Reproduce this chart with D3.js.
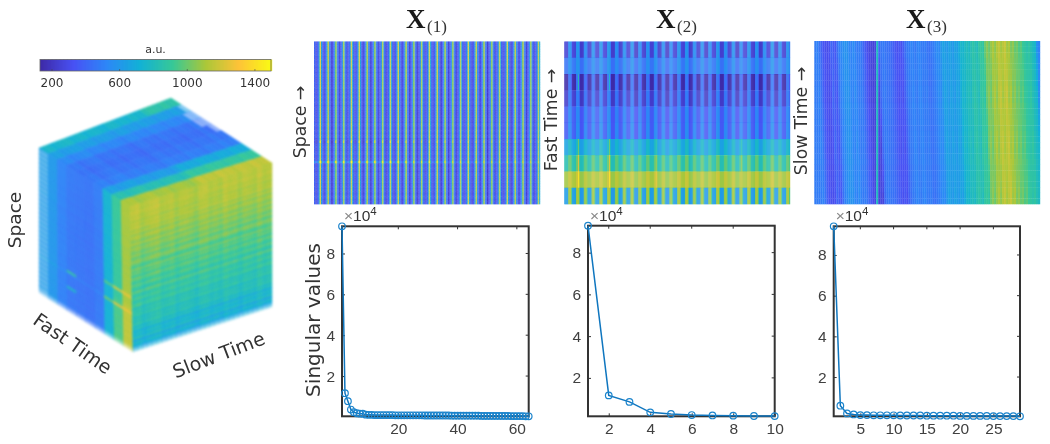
<!DOCTYPE html>
<html><head><meta charset="utf-8">
<script src="https://cdn.jsdelivr.net/npm/d3@7"></script>
<style>
html,body{margin:0;padding:0;background:#fff}
svg{display:block;filter:blur(0.35px)}
text{font-family:"DejaVu Sans",sans-serif;fill:#333}
.tick text{font-family:"Liberation Sans",sans-serif;font-size:15.5px;fill:#404040}
.tick line{stroke:#333}
</style></head><body>
<script>
// ---- colour scale ----
const colorStops=["#3e2aa8","#4852f4","#2d87f7","#12b1d6","#37c897","#abc739","#fec338","#f9fb14"];
const colorDomain=[129,1495];
const colorTicks=[200,600,1000,1400];
// ---- tensor read-offs ----
const fastLevels=[400,500,275,340,430,445,700,900,1120,850];
const x1Profile=[350,400,230,265,340,380,540,960,1230,680];
const fastSwing=[170,60,170,130,85,95,60,80,40,240];
const periodShape=[-1,-1,-1,-1,.8,1,1,.4];
const slowDelta=[10,25,-15,5,20,30,-10,0,15,-20,5,10,-5,-25,15,20,-10,5,-15,25,0,10,-20,15,5,-10,30,-5,10];
const spaceDelta=[20,30,10,25,15,35,5,20,10,25,-5,15,0,20,10,-10,15,5,25,0,-15,10,-5,20,5,-10,15,0,-20,10,5,-15,
 20,0,-10,15,-5,25,-20,30,-25,10,-10,5,20,-15,15,60,-20,10,-5,-15,15,0,-10,20,-20,5,10,-15,0,20,-5,10];
const hotRows=[39,47];
const hotGain=[130,260];
const hotFade=[1,1,.95,.9,1,.9,.85,.95,.8,.9,.7,.6,.5,.45,.55,.4,.35,.4,.3,.25,.3,.2,.25,.2,.15,.2,.15,.2,.15];
const x2Spikes=[[1,6,[6,7,8],230],[1,6,[2],350],[5,6,[6,7,8],210],[5,6,[2],280],[11,6,[6,7,8],90],[22,6,[6,7],90]];
const x3Columns=[480,500,450,380,330,310,300,320,400,360,340,430,500,530,560,570,560,520,500,540,500,470,480,450,400,350,300,270,260,250,270,260,420,460,470,450,440,430,400,370,340,310,340,310,370,430,470,480,510,490,470,500,510,480,470,480,450,
 440,460,480,510,540,530,600,640,620,600,640,620,600,650,630,690,760,740,780,800,770,830,860,830,800,880,900,870,1000,1050,990,1070,1110,1050,1130,1160,1090,1140,1170,1080,1110,1020,1060,980,1010,940,970,900,880,850,880,820,780,750,560,500];
const x3RowShift=[0,.1,.2,.4,.5,.6,.7,.8,.9,1,1.1,1.2,1.4,1.5,1.6,1.7,1.8,1.9,2,2.1,2.2,2.4,2.5,2.6,2.7,2.8,2.9,3,3.1];
const x3RowDrift=[3,-4,5,0,-3,6,2,-5,3,0,-3,7,1,-2,4,-6,3,0,5,-3,2,6,-4,0,3,-3,5,-2,2];
const x3Spike={col:31,val:780};
// ---- cube faces ----
const leftLevels=[610,590,500,460,450,440,470,720,890,1100];
const topLevels=[740,620,520,450,430,450,480,620,820,1090];
const rightRows=[1120,1130,1110,1140,1125,1100,1130,1080,1120,1090,1130,1060,1110,1030,1100,1060,1010,1090,990,1060,1020,970,1050,940,1000,1040,950,900,1010,930,970,880,
 980,920,860,950,880,830,960,860,840,910,820,860,900,790,840,810,870,770,820,790,840,750,800,680,770,710,790,650,750,690,640,690];
const hotLeft=[[3,46,880],[3,53,760],[7,40,960],[8,40,1220],[9,40,1250],[7,47,1000],[8,47,1250],[9,47,1260]];
const topNotch=[[1,28],[2,28],[3,28],[4,28],[2,27],[3,27]];
// ---- singular values (×10^4) ----
const sv1=[9.33,1.16,.77,.36,.23,.18,.16,.16,.11,.1,.1,.09,.09,.09,.09,.09,.09,.09,.08,.08,.08,.08,.08,.08,.08,.08,.08,.08,.07,.07,.07,.07,.07,.07,.07,.07,.07,.06,.06,.06,.06,.06,.06,.06,.06,.06,.06,.05,.05,.05,.05,.05,.05,.05,.05,.05,.05,.04,.04,.04,.04,.04,.03,.03];
const sv2=[9.29,1.16,.85,.35,.27,.22,.2,.19,.175,.17];
const sv3=[9.41,.59,.21,.16,.13,.13,.12,.12,.12,.12,.11,.11,.11,.11,.1,.1,.1,.1,.1,.09,.09,.09,.09,.09,.08,.08,.08,.08,.07];
const xTicks1=[20,40,60],xTicks2=[2,4,6,8,10],xTicks3=[5,10,15,20,25],yTicks=[2,4,6,8];

const svg=d3.select("body").append("svg").attr("width",1050).attr("height",444);
const color=d3.scaleLinear().domain(d3.range(colorStops.length).map(i=>colorDomain[0]+i*(colorDomain[1]-colorDomain[0])/(colorStops.length-1))).range(colorStops).clamp(true);

// colour bar
const cb=svg.append("g");
const cbx=d3.scaleLinear().domain(colorDomain).range([40,271]);
const cbVals=d3.range(colorDomain[0],colorDomain[1],8);
cb.selectAll("rect").data(cbVals).join("rect").attr("x",d=>cbx(d)).attr("y",59.5).attr("width",2.2).attr("height",11.5).attr("fill",d=>color(d));
cb.append("rect").attr("x",40).attr("y",59.5).attr("width",231).attr("height",11.5).attr("fill","none").attr("stroke","#666").attr("stroke-width",.8);
cb.selectAll("line").data(colorTicks).join("line").attr("x1",d=>cbx(d)).attr("x2",d=>cbx(d)).attr("y1",69).attr("y2",71).attr("stroke","#444").attr("stroke-width",.6);
cb.selectAll("text.l").data(colorTicks).join("text").attr("class","l").attr("x",d=>cbx(d)).attr("y",87).attr("text-anchor","middle").style("font-size","12px").text(d=>d);
cb.append("text").attr("x",155.5).attr("y",53).attr("text-anchor","middle").style("font-size","11px").text("a.u.");

// cube
function lerp(a,b,t){return [a[0]+(b[0]-a[0])*t,a[1]+(b[1]-a[1])*t];}
function face(g,c,nu,nv,val,op){
  const su=d3.scaleLinear().domain([0,nu]).range([0,1]),sv=d3.scaleLinear().domain([0,nv]).range([0,1]);
  const P=(u,v)=>lerp(lerp(c.tl,c.tr,su(u)),lerp(c.bl,c.br,su(u)),sv(v));
  const cells=[];for(let v=0;v<nv;v++)for(let u=0;u<nu;u++)cells.push({u,v});
  g.selectAll(null).data(cells).join("path")
   .attr("d",d=>"M"+[P(d.u,d.v),P(d.u+1,d.v),P(d.u+1,d.v+1),P(d.u,d.v+1)].map(p=>p.map(x=>x.toFixed(2)).join(",")).join("L")+"Z")
   .attr("fill",d=>color(val(d.u,d.v))).attr("stroke",d=>color(val(d.u,d.v))).attr("stroke-width",.5)
   .attr("opacity",d=>op(d.u,d.v));
}
const A=[39,148],G=[171,98],E=[272,163],B=[130,206],C=[133,352],D=[39,293],F=[272,307];
const cube=svg.append("g").style("filter","blur(0.8px)");
const rowFade=v=>v>=63?.4:v>=62?.7:1;
face(cube.append("g"),{tl:A,tr:G,bl:B,br:E},29,10,(s,f)=>topLevels[f]+slowDelta[s]+(f===0&&s>21?110:0)+(f>6&&s>14?60:0),
 (s,f)=>topNotch.some(n=>n[0]===f&&n[1]===s)?.55:1);
face(cube.append("g"),{tl:A,tr:B,bl:D,br:C},10,64,(f,r)=>{
  const h=hotLeft.find(x=>x[0]===f&&x[1]===r);
  return h?h[2]:leftLevels[f]+spaceDelta[r]*.6+(f>=8&&r>44?50:0)+(f===9&&r<38?-10:0);},
 (f,r)=>(f===0?(r%2?.65:.8):1)*rowFade(r));
face(cube.append("g"),{tl:B,tr:E,bl:C,br:F},29,64,(s,r)=>rightRows[r]+slowDelta[s]*1.2+spaceDelta[(r+s*3)%64]*.5,
 (s,r)=>rowFade(r));
svg.append("text").attr("transform","translate(21,220) rotate(-90)").attr("text-anchor","middle").style("font-size","18.5px").text("Space");
svg.append("text").attr("transform","translate(69,349) rotate(35)").attr("text-anchor","middle").style("font-size","19px").text("Fast Time");
svg.append("text").attr("transform","translate(221,361) rotate(-21)").attr("text-anchor","middle").style("font-size","19px").text("Slow Time");

// unfoldings
function heat(x0,x1,y0,y1,nc,nr,val){
  const x=d3.scaleBand().domain(d3.range(nc)).range([x0,x1]);
  const y=d3.scaleBand().domain(d3.range(nr)).range([y0,y1]);
  const cells=[];for(let r=0;r<nr;r++)for(let c=0;c<nc;c++)cells.push({r,c});
  svg.append("g").selectAll("rect").data(cells).join("rect")
   .attr("x",d=>x(d.c)).attr("y",d=>y(d.r)).attr("width",x.bandwidth()+.2).attr("height",y.bandwidth()+.3)
   .attr("fill",d=>color(val(d.r,d.c)));
}
heat(314,540,41.5,204,290,64,(r,c)=>{
  const f=c%10,s=Math.floor(c/10);
  let v=x1Profile[f]+slowDelta[s]*.8+spaceDelta[r]*(f>=6?1.2:.7);
  const h=hotRows.indexOf(r);
  if(h>=0){ v+= (f===7||f===8) ? hotGain[h]*hotFade[s] : (f===9||f===6?(h===1?280:60):(h===1?120:-70))*hotFade[s]; }
  return v;});
heat(564.3,790,41.5,204,232,10,(r,c)=>{
  const s=Math.floor(c/8),k=c%8;
  let v=fastLevels[r]+fastSwing[r]*periodShape[k]+slowDelta[s]*.9;
  for(const sp of x2Spikes) if(sp[0]===s&&sp[1]===k&&sp[2].includes(r)) v+=sp[3];
  return v;});
heat(814.3,1040,41,204,x3Columns.length,29,(r,c)=>{
  if(c===x3Spike.col) return x3Spike.val;
  const p=Math.max(0,c-x3RowShift[r]),i=Math.floor(p);
  return d3.interpolateNumber(x3Columns[i],x3Columns[Math.min(i+1,x3Columns.length-1)])(p-i)+x3RowDrift[r];});

// titles
[[406,"(1)"],[656,"(2)"],[906,"(3)"]].forEach(([x,s])=>{
  svg.append("text").attr("x",x).attr("y",28).style("font-family","'Liberation Serif',serif").style("font-weight","bold").style("font-size","27px").style("fill","#1a1a1a").text("X");
  svg.append("text").attr("x",x+21).attr("y",32).style("font-family","'Liberation Serif',serif").style("font-size","17px").style("fill","#333").text(s);
});
[[306,122,"Space →"],[557,120,"Fast Time →"],[807,121,"Slow Time →"]].forEach(([x,y,s])=>{
  svg.append("text").attr("transform",`translate(${x},${y}) rotate(-90)`).attr("text-anchor","middle").style("font-size","17.3px").text(s);
});

// singular value plots
function plot(x0,x1,yTop,yBot,vals,yDom,xt){
  const x=d3.scaleLinear().domain([1,vals.length]).range([x0,x1]);
  const y=d3.scaleLinear().domain(yDom).range([yBot,yTop]);
  const g=svg.append("g");
  const ax=g.append("g").attr("transform",`translate(0,${yBot})`).call(d3.axisBottom(x).tickValues(xt).tickSize(-3).tickPadding(7).tickFormat(d3.format("d")));
  ax.select(".domain").remove();
  const ay=g.append("g").attr("transform",`translate(${x0},0)`).call(d3.axisLeft(y).tickValues(yTicks).tickSize(-3).tickPadding(7).tickFormat(d3.format("d")));
  ay.select(".domain").remove();
  g.append("g").selectAll("line").data(xt).join("line").attr("x1",d=>x(d)).attr("x2",d=>x(d)).attr("y1",yTop).attr("y2",yTop+3).attr("stroke","#333");
  g.append("g").selectAll("line").data(yTicks).join("line").attr("y1",d=>y(d)).attr("y2",d=>y(d)).attr("x1",x1-3).attr("x2",x1).attr("stroke","#333");
  g.append("rect").attr("x",x0).attr("y",yTop).attr("width",x1-x0).attr("height",yBot-yTop).attr("fill","none").attr("stroke","#333").attr("stroke-width",2);
  g.append("path").attr("d",d3.line().x((d,i)=>x(i+1)).y(d=>y(d))(vals)).attr("fill","none").attr("stroke","#0f76bf").attr("stroke-width",1.5);
  g.append("g").selectAll("circle").data(vals).join("circle").attr("cx",(d,i)=>x(i+1)).attr("cy",d=>y(d)).attr("r",3.3).attr("fill","none").attr("stroke","#1b84cc").attr("stroke-width",1.2);
  const t=g.append("text").attr("x",x0+2).attr("y",yTop-5).style("font-family","'Liberation Sans',sans-serif").style("font-size","15.5px");
  t.append("tspan").style("fill","#888").text("×");
  t.append("tspan").text("10");
  t.append("tspan").attr("dy",-6).style("font-size","11.5px").text("4");
}
plot(342,528.7,226.3,416.3,sv1,[.03,9.33],xTicks1);
plot(588,774.7,225.7,416.3,sv2,[.16,9.29],xTicks2);
plot(833.7,1020,226.3,416.3,sv3,[.07,9.41],xTicks3);
svg.append("text").attr("transform","translate(320,320) rotate(-90)").attr("text-anchor","middle").style("font-size","20px").text("Singular values");
</script>
</body></html>
